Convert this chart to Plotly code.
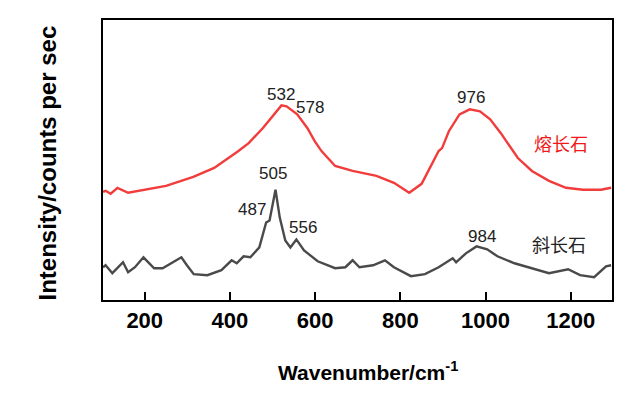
import plotly.graph_objects as go

# Red curve (熔长石)
red_x = [102, 108, 120, 136, 161, 201, 250, 314, 363, 420, 444, 477, 501, 521, 533, 558, 582, 599, 615,
         631, 647, 688, 744, 785, 821, 850, 874, 890, 898, 914, 939, 963, 987, 1011, 1036, 1060,
         1076, 1109, 1149, 1189, 1229, 1271, 1295]
red_y = [109, 110, 107, 113, 108, 111, 115, 124, 133, 150, 158, 173, 185, 196, 195, 187, 173, 160, 150,
         143, 135, 130, 125, 118, 108, 117, 137, 150, 153, 170, 187, 192, 190, 182, 168, 153,
         143, 130, 120, 113, 111, 111, 113]

# Gray curve (斜长石)
gray_x = [102, 108, 124, 149, 161, 177, 197, 222, 242, 262, 286, 299, 315, 347, 380, 404, 416, 432, 448,
          469, 485, 493, 507, 517, 530, 542, 556, 574, 606, 647, 671, 688, 704, 736, 764, 785, 825,
          858, 890, 923, 931, 954, 979, 1004, 1028, 1068, 1109, 1149, 1194, 1222, 1255, 1283, 1295]
gray_y = [33, 35, 27, 38, 28, 33, 43, 32, 32, 37, 43, 35, 26, 25, 30, 40, 37, 44, 43,
          53, 78, 80, 111, 83, 60, 53, 61, 50, 39, 32, 33, 40, 33, 35, 40, 33, 24,
          26, 33, 42, 38, 47, 54, 51, 44, 37, 32, 27, 31, 25, 23, 34, 35]

# Peak labels
peak_text = ["532", "578", "976", "505", "487", "556", "984"]
peak_x = [521, 589, 967, 502, 451, 572, 991]
peak_y = [207, 194, 204, 127, 91, 73, 64]

series_names = ["熔长石", "斜长石"]
name_x = [1178, 1172]
name_y = [158, 56]

x_ticks = [200, 400, 600, 800, 1000, 1200]

fig = go.Figure()
fig.add_trace(go.Scatter(x=red_x, y=red_y, mode="lines",
                         line=dict(color="#f23c3c", width=2.4), showlegend=False))
fig.add_trace(go.Scatter(x=gray_x, y=gray_y, mode="lines",
                         line=dict(color="#4a4a4a", width=2.4), showlegend=False))

for t, x, y in zip(peak_text, peak_x, peak_y):
    fig.add_annotation(x=x, y=y, text=t, showarrow=False, xref="x", yref="y",
                       font=dict(family="Liberation Sans, Arial", size=17, color="#222222"))

name_colors = ["#f01818", "#222222"]
for t, x, y, c in zip(series_names, name_x, name_y, name_colors):
    fig.add_annotation(x=x, y=y, text=t, showarrow=False, xref="x", yref="y",
                       font=dict(family="Noto Sans CJK SC", size=18, color=c))

# Axis titles
fig.add_annotation(x=-0.110, y=0.4876, xref="paper", yref="paper", showarrow=False,
                   text="<b>Intensity/counts per sec</b>", textangle=-90,
                   xanchor="center", yanchor="middle",
                   font=dict(family="Liberation Sans, Arial", size=24, color="black"))
fig.add_annotation(x=0.5197, y=-0.255, xref="paper", yref="paper", showarrow=False,
                   text="<b>Wavenumber/cm<sup>-1</sup></b>",
                   xanchor="center", yanchor="middle",
                   font=dict(family="Liberation Sans, Arial", size=21, color="black"))

fig.update_layout(
    width=631, height=389,
    margin=dict(l=95, r=27, t=10, b=97),
    paper_bgcolor="white", plot_bgcolor="white",
    font=dict(family="Liberation Sans, Arial", color="black"),
)
fig.update_xaxes(
    range=[102, 1297], tickvals=x_ticks, ticktext=["<b>%d</b>" % v for v in x_ticks],
    ticks="inside", ticklen=8, tickwidth=2, tickcolor="black",
    showline=True, linecolor="black", linewidth=2, mirror=True,
    showgrid=False, zeroline=False,
    tickfont=dict(size=22, family="Liberation Sans, Arial", color="black"),
)
fig.update_yaxes(
    range=[0, 282], showticklabels=False, ticks="",
    showline=True, linecolor="black", linewidth=2, mirror=True,
    showgrid=False, zeroline=False,
)

fig.write_html("out.html")
